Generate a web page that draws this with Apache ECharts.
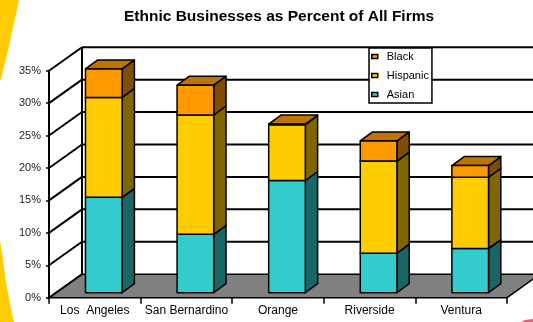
<!doctype html>
<html>
<head>
<meta charset="utf-8">
<title>Ethnic Businesses as Percent of All Firms</title>
<script src="https://cdn.jsdelivr.net/npm/echarts@6/dist/echarts.min.js"></script>
<style>
html,body{margin:0;padding:0;background:#fff;}
#chart{width:533px;height:322px;}
</style>
</head>
<body>
<div id="chart"></div>
<script>
var cities = ['Los  Angeles', 'San Bernardino', 'Orange', 'Riverside', 'Ventura'];
var asian = [14.7, 9.0, 17.3, 6.1, 6.8];
var hispanic = [15.4, 18.4, 8.6, 14.2, 11.0];
var black = [4.4, 4.6, 0.1, 3.1, 1.8];
var yTicks = [0, 5, 10, 15, 20, 25, 30, 35];

var FONT = 'Liberation Sans, Arial, sans-serif';
var DX = 33, DY = -23.5;   // depth of walls / floor
var BX = 9, BY = -5;       // where the bar front sits
var SX = 12.3, SY = -9;    // bar depth

var cols = {
    Asian:    {front: '#33CCCC', side: '#1A6666', top: '#269999'},
    Hispanic: {front: '#FFCC00', side: '#806600', top: '#BF9900'},
    Black:    {front: '#FF9900', side: '#804D00', top: '#BF7300'}
};

// stacked rows [cat, bottom, top]
function stackRows(vals, base) {
    return vals.map(function (v, i) { return [i, base[i], base[i] + v]; });
}
var zero = cities.map(function () { return 0; });
var asianRows = stackRows(asian, zero);
var hispRows = stackRows(hispanic, asian);
var blackRows = stackRows(black, asian.map(function (v, i) { return v + hispanic[i]; }));

function ln(x1, y1, x2, y2) {
    return {type: 'line', shape: {x1: x1, y1: y1, x2: x2, y2: y2}, style: {stroke: '#000', lineWidth: 2}};
}

function wallItem(params, api) {
    var band = api.size([1, 0])[0];
    var xl = api.coord([0, 0])[0] - band / 2;
    var xr = api.coord([cities.length - 1, 0])[0] + band / 2;
    var y0 = api.coord([0, 0])[1];
    var yTop = api.coord([0, yTicks[yTicks.length - 1]])[1];
    var kids = [];
    kids.push({type: 'polygon',
        shape: {points: [[xl, y0], [xl + DX, y0 + DY], [xr + DX, y0 + DY], [xr, y0]]},
        style: {fill: '#808080', stroke: '#000', lineWidth: 1.5}});
    yTicks.forEach(function (v) {
        var y = api.coord([0, v])[1];
        kids.push(ln(xl, y, xl + DX, y + DY));
        if (v > 0) kids.push(ln(xl + DX, y + DY, xr + DX, y + DY));
    });
    kids.push(ln(xl + DX, yTop + DY, xl + DX, y0 + DY));
    return {type: 'group', children: kids};
}

function barItem(c) {
    return function (params, api) {
        var i = api.value(0), lo = api.value(1), hi = api.value(2);
        var w = api.size([1, 0])[0] * 0.4;
        var p0 = api.coord([i, lo]), p1 = api.coord([i, hi]);
        var x = p0[0] + BX - w / 2, yb = p0[1] + BY, yt = p1[1] + BY;
        var st = function (f) { return {fill: f, stroke: '#000', lineWidth: 1.5, lineJoin: 'round'}; };
        return {type: 'group', children: [
            {type: 'polygon', shape: {points: [[x + w, yb], [x + w + SX, yb + SY], [x + w + SX, yt + SY], [x + w, yt]]}, style: st(c.side)},
            {type: 'polygon', shape: {points: [[x, yt], [x + SX, yt + SY], [x + w + SX, yt + SY], [x + w, yt]]}, style: st(c.top)},
            {type: 'rect', shape: {x: x, y: yt, width: w, height: yb - yt}, style: st(c.front)}
        ]};
    };
}

function barSeries(name, rows) {
    return {
        name: name, type: 'custom', z: 3,
        renderItem: barItem(cols[name]),
        itemStyle: {color: cols[name].front},
        encode: {x: 0, y: 2},
        data: rows
    };
}

var chart = echarts.init(document.getElementById('chart'));
chart.setOption({
    animation: false,
    title: {
        text: 'Ethnic Businesses as Percent of All Firms',
        left: 119, top: 4,
        textStyle: {fontFamily: FONT, fontSize: 15.5, fontWeight: 'bold', color: '#000'}
    },
    graphic: [
        {type: 'polygon', z: -10, shape: {points: [[0, 0], [19, 0], [16, 14], [12, 32], [7, 55], [0, 82]]}, style: {fill: '#FFCC00'}},
        {type: 'polygon', z: -10, shape: {points: [[0, 240], [3, 260], [6, 282], [10, 304], [14, 322], [0, 322]]}, style: {fill: '#FFCC00'}},
        {type: 'polygon', z: -10, shape: {points: [[521, 322], [525, 320], [533, 319], [533, 322]]}, style: {fill: '#E06080'}}
    ],
    legend: {
        data: ['Black', 'Hispanic', 'Asian'],
        orient: 'vertical',
        left: 369, top: 48,
        padding: [3, 3, 3, 2],
        itemGap: 8,
        itemWidth: 6, itemHeight: 4,
        icon: 'rect',
        backgroundColor: '#fff',
        borderColor: '#000', borderWidth: 1.5,
        itemStyle: {borderColor: '#000', borderWidth: 1.5},
        textStyle: {fontFamily: FONT, fontSize: 11, color: '#000', padding: [0, 0, 0, 4]}
    },
    grid: {left: 49, right: 26, top: 70.7, bottom: 24.3},
    xAxis: {
        type: 'category',
        data: cities,
        axisLine: {show: false},
        axisTick: {show: true, interval: 0, length: 6, lineStyle: {color: '#000', width: 1.5}},
        axisLabel: {interval: 0, fontFamily: FONT, fontSize: 12, color: '#000', margin: 7}
    },
    yAxis: {
        type: 'value', min: 0, max: 35, interval: 5,
        axisLine: {show: true, lineStyle: {color: '#000', width: 2}},
        axisTick: {show: true, length: 3, lineStyle: {color: '#000', width: 1.5}},
        axisLabel: {fontFamily: FONT, fontSize: 11, color: '#222', margin: 8, formatter: '{value}%'},
        splitLine: {show: false}
    },
    series: [
        {type: 'custom', name: 'walls', z: 1, renderItem: wallItem, encode: {x: 0, y: 1}, data: [[0, 0]], silent: true},
        barSeries('Asian', asianRows),
        barSeries('Hispanic', hispRows),
        barSeries('Black', blackRows)
    ]
});
</script>
</body>
</html>
